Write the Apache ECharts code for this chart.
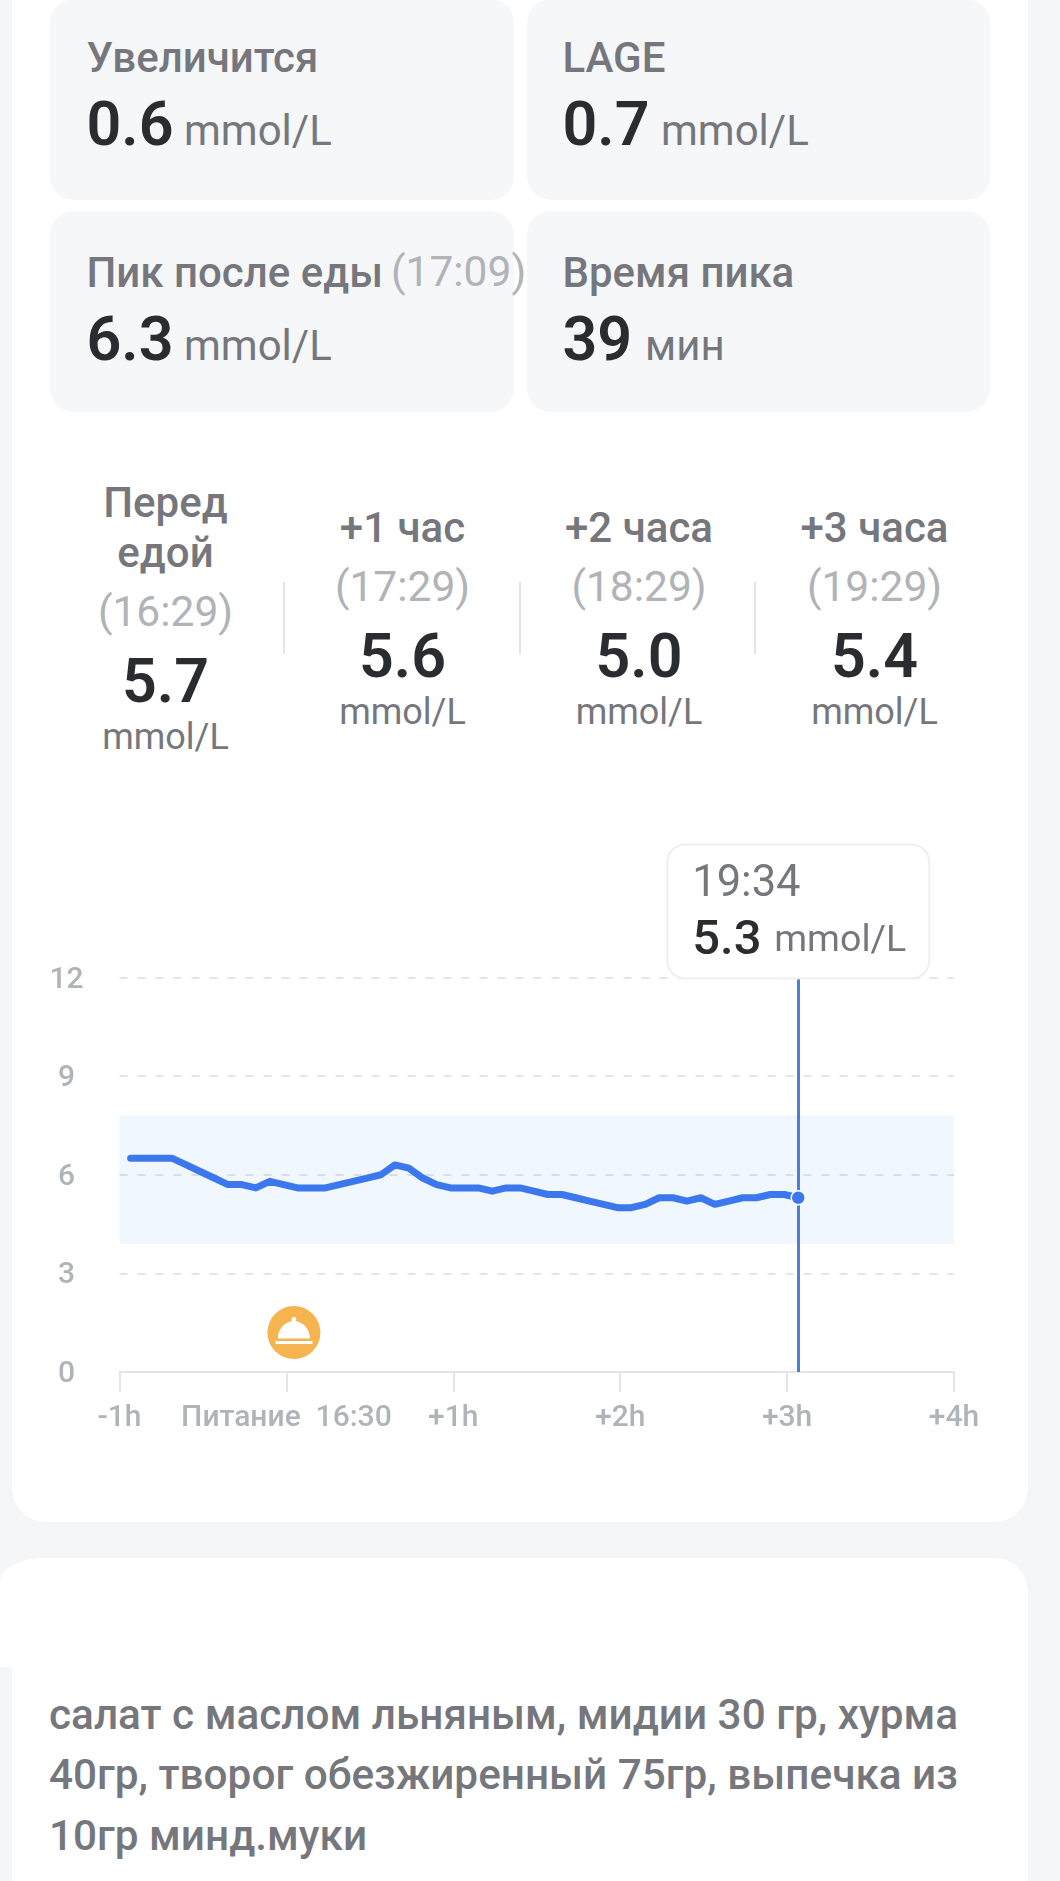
<!DOCTYPE html>
<html lang="ru">
<head>
<meta charset="utf-8">
<title>Питание</title>
<script src="https://cdn.jsdelivr.net/npm/echarts@6/dist/echarts.min.js"></script>
<style>
html,body{margin:0;padding:0;background:#f5f6f8;}
#page{position:relative;width:1060px;height:1881px;overflow:hidden;background:#f5f6f8;font-family:Roboto,sans-serif;}
.box{position:absolute;}
.t{position:absolute;white-space:pre;line-height:1;}
#chart{position:absolute;left:0;top:830px;width:1060px;height:640px;}
</style>
</head>
<body>
<div id="page">
  <div class="box" style="left:12px;top:-40px;width:1016px;height:1562px;background:#fff;border-radius:34px;"></div>
  <div class="box" style="left:12px;top:1558px;width:1016px;height:360px;background:#fff;border-radius:34px;"></div>
  <div class="box" style="left:0;top:1558px;width:70px;height:109px;background:#fff;border-top-left-radius:45px 24px;"></div>
  <div id="chart"></div>
</div>
<script>
// ---- data ----
const summaryTitles = ['Увеличится', 'LAGE', 'Пик после еды', 'Время пика'];
const summaryTitleNotes = ['', '', '(17:09)', ''];
const summaryValues = ['0.6', '0.7', '6.3', '39'];
const summaryUnits = ['mmol/L', 'mmol/L', 'mmol/L', 'мин'];

const stageTitles = [['Перед', 'едой'], ['+1 час'], ['+2 часа'], ['+3 часа']];
const stageTimes = ['(16:29)', '(17:29)', '(18:29)', '(19:29)'];
const stageValues = ['5.7', '5.6', '5.0', '5.4'];
const stageUnit = 'mmol/L';

const noteLines = [
  'салат с маслом льняным, мидии 30 гр, хурма',
  '40гр, творог обезжиренный 75гр, выпечка из',
  '10гр минд.муки'
];

// minutes relative to the meal (16:30)
const minutes = [-56,-51,-46,-41,-36,-31,-26,-21,-16,-11,-6,-1,4,9,14,19,24,29,34,39,44,49,54,59,64,69,74,79,84,89,94,99,104,109,114,119,124,129,134,139,144,149,154,159,164,169,174,179,184];
const glucose = [6.5,6.5,6.5,6.5,6.3,6.1,5.9,5.7,5.7,5.6,5.8,5.7,5.6,5.6,5.6,5.7,5.8,5.9,6.0,6.3,6.2,5.9,5.7,5.6,5.6,5.6,5.5,5.6,5.6,5.5,5.4,5.4,5.3,5.2,5.1,5.0,5.0,5.1,5.3,5.3,5.2,5.3,5.1,5.2,5.3,5.3,5.4,5.4,5.3];
const xTickLabels = ['-1h', 'Питание  16:30', '+1h', '+2h', '+3h', '+4h'];
const targetRange = [3.9, 7.8];
const cursorMinute = 184;
const cursorTime = '19:34';
const cursorValue = 5.3;
const cursorUnit = 'mmol/L';
const mealMarker = [2.7, 1.2];

// ---- panels above and below the chart ----
const page = document.getElementById('page');
const GREY = '#75777d', LIGHT = '#b0b3b8', DARK = '#2b2c30';
function text(str, x, baseline, size, color, weight, align) {
  const el = document.createElement('div');
  el.className = 't';
  el.textContent = str;
  el.style.fontSize = size + 'px';
  el.style.color = color;
  el.style.fontWeight = weight;
  el.style.top = (baseline - 0.5 * size - 0.3415 * size) + 'px';
  if (align === 'center') { el.style.left = (x - 300) + 'px'; el.style.width = '600px'; el.style.textAlign = 'center'; }
  else el.style.left = x + 'px';
  page.appendChild(el);
  return el;
}
function box(x, y, w, h, color, r) {
  const el = document.createElement('div');
  el.className = 'box';
  el.style.cssText = `left:${x}px;top:${y}px;width:${w}px;height:${h}px;background:${color};border-radius:${r}px;`;
  page.insertBefore(el, document.getElementById('chart'));
}
const cardX = [50, 526.5], cardY = [-1, 211], textX = [86.5, 562.5];
const titleBase = [72, 287], valueBase = [145, 360];
const unitXs = [184, 661, 184, 645];
summaryTitles.forEach((title, i) => {
  const col = i % 2, row = i >> 1;
  box(cardX[col], cardY[row], 463.5, 200.5, '#f6f7f9', 24);
  text(title, textX[col], titleBase[row], 42, GREY, 500);
  if (summaryTitleNotes[i]) text(summaryTitleNotes[i], 391, titleBase[row], 42.5, LIGHT, 400);
  text(summaryValues[i], textX[col], valueBase[row], 61, DARK, 600);
  text(summaryUnits[i], unitXs[i], valueBase[row], 42, GREY, 400);
});
const stageX = [165.5, 402.5, 639, 874.5];
stageTitles.forEach((lines, i) => {
  const shift = lines.length > 1 ? 25 : 0;
  if (lines.length > 1) {
    text(lines[0], stageX[i], 517, 42, GREY, 500, 'center');
    text(lines[1], stageX[i], 567, 42, GREY, 500, 'center');
  } else {
    text(lines[0], stageX[i], 542, 42, GREY, 500, 'center');
  }
  text(stageTimes[i], stageX[i], 602 + shift, 42.5, LIGHT, 400, 'center');
  text(stageValues[i], stageX[i], 677 + shift, 61, DARK, 600, 'center');
  text(stageUnit, stageX[i], 724 + shift, 36, GREY, 400, 'center');
});
[284, 520, 755].forEach(x => box(x - 1, 582, 2, 72, '#e2e4e7', 0));
const noteBase = [1730, 1790, 1851];
noteLines.forEach((line, i) => text(line, 49, noteBase[i], 42.3, GREY, 500));

// ---- chart ----
const AXIS_LABEL = '#b0b3b8', RULE = '#e3e5e9', BLUE = '#3b78ee';
const chart = echarts.init(document.getElementById('chart'), null, { renderer: 'canvas' });
const bellPath = 'path://M18.5 0a2.4 2.4 0 0 1 1.6 4.2C28 5 34.5 12 34.5 21H2.5C2.5 12 9 5 16.9 4.2A2.4 2.4 0 0 1 18.5 0ZM0 23.5H37V26.5H0Z';
chart.setOption({
  animation: false,
  textStyle: { fontFamily: 'Roboto' },
  grid: { left: 119.5, right: 106, top: 147.5, height: 394.5, containLabel: false },
  xAxis: {
    type: 'value', min: -60, max: 240, interval: 60,
    axisLine: { show: true, lineStyle: { color: RULE, width: 2 } },
    axisTick: { show: true, length: 20, lineStyle: { color: RULE, width: 2 } },
    axisLabel: {
      color: AXIS_LABEL, fontSize: 30, fontWeight: 500, margin: 31, hideOverlap: false,
      showMinLabel: true, showMaxLabel: true,
      formatter: v => xTickLabels[(v + 60) / 60]
    },
    splitLine: { show: false }
  },
  yAxis: {
    type: 'value', min: 0, max: 12, interval: 3,
    axisLine: { show: false }, axisTick: { show: false },
    axisLabel: { color: AXIS_LABEL, fontSize: 30, fontWeight: 500, margin: 53, align: 'center', verticalAlign: 'top', lineHeight: 5 },
    splitLine: {
      show: true, showMinLine: false,
      lineStyle: { color: '#e3e5e9', width: 2, type: [8, 10] }
    }
  },
  series: [
    {
      type: 'line', name: 'glucose',
      data: minutes.map((m, i) => [m, glucose[i]]),
      showSymbol: false, smooth: false, z: 5,
      lineStyle: { color: BLUE, width: 7, cap: 'round', join: 'round' },
      markArea: {
        silent: true,
        itemStyle: { color: 'rgba(60,140,240,0.07)' },
        data: [[{ yAxis: targetRange[0] }, { yAxis: targetRange[1] }]]
      },
      markLine: {
        silent: true, symbol: 'none', animation: false,
        lineStyle: { color: '#4a80d8', width: 3, type: 'solid' },
        label: {
          show: true, position: 'end', distance: 0,
          formatter: `{t|${cursorTime}}\n{v|${cursorValue}}{u|${cursorUnit}}`,
          backgroundColor: '#fff', borderColor: '#efefef', borderWidth: 2, borderRadius: 17,
          padding: [12, 24, 8, 24],
          rich: {
            t: { fontSize: 43.5, color: GREY, lineHeight: 56, fontFamily: 'Roboto', width: 212, align: 'left' },
            v: { fontSize: 49, color: DARK, fontWeight: 500, lineHeight: 56, fontFamily: 'Roboto', width: 82, align: 'left' },
            u: { fontSize: 37.5, color: GREY, lineHeight: 56, fontFamily: 'Roboto', width: 130, align: 'left' }
          }
        },
        data: [[{ coord: [cursorMinute, 0] }, { coord: [cursorMinute, 12] }]]
      }
    },
    {
      type: 'scatter', name: 'cursor', data: [[cursorMinute, cursorValue]], z: 6,
      symbol: 'circle', symbolSize: 14, silent: true,
      itemStyle: { color: BLUE, borderColor: '#fff', borderWidth: 1.5, opacity: 1 }
    },
    {
      type: 'scatter', name: 'meal', data: [mealMarker], z: 3,
      symbol: 'circle', symbolSize: 53, silent: true,
      itemStyle: { color: '#f5b44f', opacity: 1 }
    },
    {
      type: 'scatter', name: 'meal icon', data: [mealMarker], z: 4,
      symbol: bellPath, symbolSize: [37, 27], symbolOffset: [0, -2], silent: true,
      itemStyle: { color: '#ffffff', opacity: 1 }
    }
  ]
});
</script>
</body>
</html>
